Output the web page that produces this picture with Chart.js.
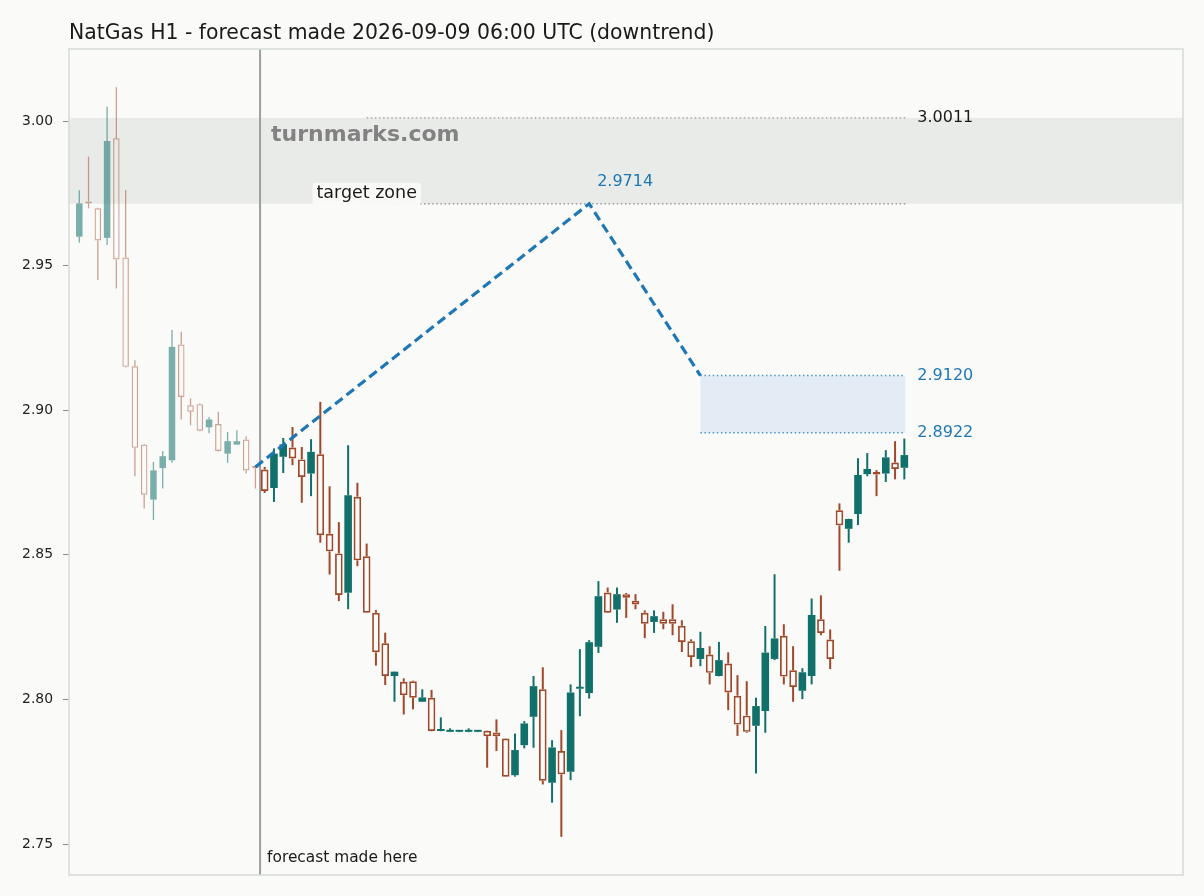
<!DOCTYPE html>
<html><head><meta charset="utf-8">
<script src="https://cdn.jsdelivr.net/npm/chart.js@4.4.1/dist/chart.umd.min.js"></script>
<style>html,body{margin:0;padding:0;background:#fafaf8;overflow:hidden}#wrap{width:1204px;height:896px;position:relative}</style>
</head><body><div id="wrap"><canvas id="c" width="1204" height="896"></canvas></div>
<script>
const titleText = "NatGas H1 - forecast made 2026-09-09 06:00 UTC (downtrend)";
const watermark = "turnmarks.com";
const opens  = [2.9600,2.9722,2.9698,2.9596,2.9940,2.9528,2.9152,2.8881,2.8691,2.8800,2.8827,2.9227,2.9017,2.9021,2.8941,2.8952,2.8850,2.8881,2.8899,2.8804,
  2.8795,2.8731,2.8839,2.8871,2.8830,2.8781,2.8848,2.8573,2.8505,2.8369,2.8701,2.8495,2.8300,2.8194,2.8081,2.8061,2.8063,2.7992,2.8006,2.7891,
  2.7888,2.7888,2.7888,2.7888,2.7892,2.7886,2.7865,2.7738,2.7842,2.7940,2.8035,2.7712,2.7822,2.7750,2.8037,2.8022,2.8182,2.8370,2.8311,2.8364,
  2.8341,2.8300,2.8268,2.8277,2.8277,2.8255,2.8201,2.8140,2.8155,2.8081,2.8124,2.8013,2.7944,2.7909,2.7960,2.8140,2.8220,2.8101,2.8030,2.8081,
  2.8277,2.8207,2.8654,2.8590,2.8641,2.8779,2.8786,2.8781,2.8819,2.8801];
const highs  = [2.9761,2.9877,2.9700,3.0049,3.0117,2.9761,2.9173,2.8883,2.8821,2.8859,2.9277,2.9271,2.9041,2.9023,2.8977,2.8995,2.8925,2.8931,2.8910,2.8806,
  2.8804,2.8868,2.8904,2.8942,2.8873,2.8900,2.9029,2.8737,2.8613,2.8879,2.8749,2.8539,2.8309,2.8231,2.8097,2.8073,2.8065,2.8035,2.8033,2.7938,
  2.7900,2.7891,2.7900,2.7891,2.7893,2.7931,2.7866,2.7882,2.7925,2.8081,2.8111,2.7859,2.7894,2.8052,2.8174,2.8205,2.8409,2.8387,2.8387,2.8368,
  2.8364,2.8308,2.8308,2.8303,2.8329,2.8274,2.8208,2.8234,2.8184,2.8199,2.8163,2.8084,2.8063,2.8006,2.8254,2.8433,2.8260,2.8184,2.8108,2.8349,
  2.8360,2.8242,2.8678,2.8625,2.8834,2.8852,2.8793,2.8862,2.8893,2.8902];
const lows   = [2.9579,2.9698,2.9450,2.9571,2.9421,2.9148,2.8772,2.8660,2.8620,2.8729,2.8818,2.8968,2.8948,2.8927,2.8920,2.8857,2.8818,2.8881,2.8781,2.8729,
  2.8714,2.8683,2.8783,2.8810,2.8680,2.8703,2.8542,2.8432,2.8340,2.8312,2.8461,2.8299,2.8117,2.8050,2.7992,2.7948,2.7966,2.7991,2.7890,2.7890,
  2.7887,2.7887,2.7887,2.7887,2.7764,2.7822,2.7732,2.7733,2.7831,2.7833,2.7706,2.7643,2.7525,2.7721,2.7942,2.8003,2.8161,2.8299,2.8265,2.8282,
  2.8312,2.8212,2.8230,2.8243,2.8222,2.8164,2.8112,2.8115,2.8052,2.8080,2.7963,2.7874,2.7885,2.7744,2.7885,2.8136,2.8052,2.7992,2.8001,2.8052,
  2.8222,2.8105,2.8445,2.8542,2.8603,2.8772,2.8703,2.8752,2.8761,2.8761];
const closes = [2.9715,2.9715,2.9587,2.9931,2.9521,2.9150,2.8870,2.8708,2.8792,2.8841,2.9219,2.9046,2.8995,2.8929,2.8968,2.8859,2.8893,2.8893,2.8792,2.8800,
  2.8721,2.8850,2.8882,2.8833,2.8769,2.8856,2.8568,2.8512,2.8361,2.8706,2.8481,2.8300,2.8163,2.8081,2.8096,2.8015,2.8006,2.8007,2.7891,2.7894,
  2.7891,2.7890,2.7890,2.7890,2.7873,2.7873,2.7733,2.7825,2.7917,2.8046,2.7719,2.7834,2.7741,2.8024,2.8043,2.8198,2.8357,2.8300,2.8364,2.8352,
  2.8328,2.8262,2.8288,2.8262,2.8262,2.8199,2.8147,2.8178,2.8092,2.8136,2.8024,2.7913,2.7888,2.7977,2.8162,2.8211,2.8079,2.8043,2.8094,2.8292,
  2.8230,2.8140,2.8602,2.8624,2.8776,2.8797,2.8778,2.8837,2.8797,2.8845];
const histCount = 20;            // candles before the forecast
const forecastMadeAt = 19.5;     // x position of the "forecast made here" line
const yTicks = [2.75, 2.80, 2.85, 2.90, 2.95, 3.00];
const pathX = [19, 55, 67];
const pathY = [2.8804, 2.9714, 2.9120];
const targetLow = 2.9714, targetHigh = 3.0011;
const targetStartX = 31, zoneEndX = 89.1;
const boxLow = 2.8922, boxHigh = 2.9120;
const xMin = -1.11, xMax = 119.06;
const yMin = 2.7393, yMax = 3.0249;

const BG = '#fafaf8';
const TEAL = 'rgb(17,112,106)', ORANGE = 'rgb(160,72,42)';
const TEAL_H = 'rgba(17,112,106,0.55)', ORANGE_H = 'rgba(160,72,42,0.5)';
const BLUE = '#1f77b4';
const FONT = 'DejaVu Sans';

function range(a,b){const r=[];for(let i=a;i<b;i++)r.push(i);return r;}
function up(i){return closes[i]>=opens[i];}
function candleSets(idx, hist){
  const col = i => up(i) ? (hist?TEAL_H:TEAL) : (hist?ORANGE_H:ORANGE);
  const wickW = hist ? 1.3 : 2;
  const bodyW = hist ? 6.5 : 7.6;
  const common = {type:'bar', grouped:false, inflateAmount:0, borderSkipped:false};
  return [
    Object.assign({}, common, {order:4, barThickness:wickW,
      data: idx.map(i=>({x:i, y:[Math.max(opens[i],closes[i]), highs[i]]})),
      backgroundColor: idx.map(col), borderWidth:0}),
    Object.assign({}, common, {order:4, barThickness:wickW,
      data: idx.map(i=>({x:i, y:[lows[i], Math.min(opens[i],closes[i])]})),
      backgroundColor: idx.map(col), borderWidth:0}),
    Object.assign({}, common, {order:3, barThickness:bodyW, minBarLength:2,
      data: idx.map(i=>({x:i, y:[Math.min(opens[i],closes[i]), Math.max(opens[i],closes[i])]})),
      backgroundColor: idx.map(i=> up(i) ? col(i) : 'rgba(0,0,0,0)'),
      borderColor: idx.map(col),
      borderWidth: idx.map(i=> up(i) ? 0 : (hist?1.2:1.7))})
  ];
}

const datasets = [
  {type:'line', order:0, data: pathX.map((x,k)=>({x, y:pathY[k]})), borderColor:BLUE, borderWidth:3.2,
   borderDash:[9.5,5], pointRadius:0, tension:0, fill:false},
  {type:'line', order:1, data:[{x:targetStartX,y:targetHigh},{x:zoneEndX,y:targetHigh}], borderColor:'#9a9a9a', borderWidth:1.4, borderDash:[1.5,2.6], pointRadius:0, fill:false},
  {type:'line', order:1, data:[{x:targetStartX,y:targetLow},{x:zoneEndX,y:targetLow}], borderColor:'#9a9a9a', borderWidth:1.4, borderDash:[1.5,2.6], pointRadius:0, fill:false},
  {type:'line', order:1, data:[{x:pathX[2],y:boxHigh},{x:zoneEndX,y:boxHigh}], borderColor:'#4f94cc', borderWidth:1.5, borderDash:[1.5,2.6], pointRadius:0, fill:false},
  {type:'line', order:1, data:[{x:pathX[2],y:boxLow},{x:zoneEndX,y:boxLow}], borderColor:'#4f94cc', borderWidth:1.5, borderDash:[1.5,2.6], pointRadius:0, fill:false},
  ...candleSets(range(0,histCount), true),
  ...candleSets(range(histCount, opens.length), false)
];

const overlay = {
  id:'overlay',
  beforeDatasetsDraw(chart){
    const {ctx, chartArea:a, scales:{x,y}} = chart;
    ctx.save();
    const yt = y.getPixelForValue(targetHigh), yb = y.getPixelForValue(targetLow);
    ctx.fillStyle = '#e9ebe8';
    ctx.fillRect(a.left, yt, a.right-a.left, yb-yt);
    const bx0 = x.getPixelForValue(pathX[2]), bx1 = x.getPixelForValue(zoneEndX);
    const by0 = y.getPixelForValue(boxHigh), by1 = y.getPixelForValue(boxLow);
    ctx.fillStyle = '#e3ecf4';
    ctx.fillRect(bx0, by0, bx1-bx0, by1-by0);
    const vx = x.getPixelForValue(forecastMadeAt);
    ctx.strokeStyle = '#9b9f9d'; ctx.lineWidth = 2;
    ctx.beginPath(); ctx.moveTo(vx, a.top); ctx.lineTo(vx, a.bottom); ctx.stroke();
    ctx.restore();
  },
  afterDatasetsDraw(chart){
    const {ctx, chartArea:a, scales:{x,y}} = chart;
    ctx.save();
    const vx = x.getPixelForValue(forecastMadeAt);
    const yt = y.getPixelForValue(targetHigh), yb = y.getPixelForValue(targetLow);
    const ex = x.getPixelForValue(zoneEndX);
    // watermark
    ctx.font = 'bold 22px "' + FONT + '"';
    ctx.fillStyle = '#828282'; ctx.textBaseline = 'middle'; ctx.textAlign = 'left';
    ctx.fillText(watermark, vx + 11, yt + 17);
    // target zone label with box
    ctx.font = '17.5px "' + FONT + '"';
    const tz = 'target zone';
    const tw = ctx.measureText(tz).width;
    const tx = x.getPixelForValue(targetStartX);
    ctx.fillStyle = 'rgba(250,250,248,0.95)';
    ctx.beginPath();
    if (ctx.roundRect) ctx.roundRect(tx - tw/2 - 4, yb - 21, tw + 8, 22.5, 3); else ctx.rect(tx - tw/2 - 4, yb - 21, tw + 8, 22.5);
    ctx.fill();
    ctx.fillStyle = '#1a1a1a'; ctx.textAlign = 'center';
    ctx.fillText(tz, tx, yb - 10);
    // value labels
    ctx.textAlign = 'left';
    ctx.font = '16px "' + FONT + '"';
    ctx.fillStyle = '#1a1a1a';
    ctx.fillText(targetHigh.toFixed(4), ex + 12, yt);
    ctx.fillStyle = BLUE;
    ctx.fillText(pathY[1].toFixed(4), x.getPixelForValue(pathX[1]) + 8, y.getPixelForValue(pathY[1]) - 22);
    ctx.fillText(boxHigh.toFixed(4), ex + 12, y.getPixelForValue(boxHigh));
    ctx.fillText(boxLow.toFixed(4), ex + 12, y.getPixelForValue(boxLow));
    // forecast made here
    ctx.font = '15.4px "' + FONT + '"';
    ctx.fillStyle = '#1a1a1a';
    ctx.fillText('forecast made here', vx + 7, a.bottom - 17);
    // frame
    ctx.strokeStyle = '#d5dad7'; ctx.lineWidth = 1.5;
    ctx.strokeRect(a.left, a.top, a.right - a.left, a.bottom - a.top);
    // title
    ctx.font = '20.4px "' + FONT + '"';
    ctx.fillStyle = '#1a1a1a'; ctx.textBaseline = 'alphabetic';
    ctx.fillText(titleText, a.left, 38.5);
    ctx.restore();
  }
};

new Chart(document.getElementById('c'), {
  type:'bar',
  data:{datasets},
  options:{
    responsive:false, animation:false, devicePixelRatio:1,
    layout:{padding:{top:49, left:0, right:21, bottom:21}},
    plugins:{legend:{display:false}, tooltip:{enabled:false}, title:{display:false}},
    scales:{
      x:{type:'linear', min:xMin, max:xMax, offset:false, display:false},
      y:{type:'linear', position:'left', min:yMin, max:yMax,
        afterFit(s){ s.width = 69; },
        afterBuildTicks(s){ s.ticks = yTicks.map(v=>({value:v})); },
        grid:{drawOnChartArea:false, drawTicks:true, tickLength:6, color:'#8c8c8c', lineWidth:1},
        border:{display:false},
        ticks:{padding:10, color:'#222', font:{family:FONT, size:13.9}, callback:v=>Number(v).toFixed(2)}
      }
    }
  },
  plugins:[overlay]
});
</script></body></html>
